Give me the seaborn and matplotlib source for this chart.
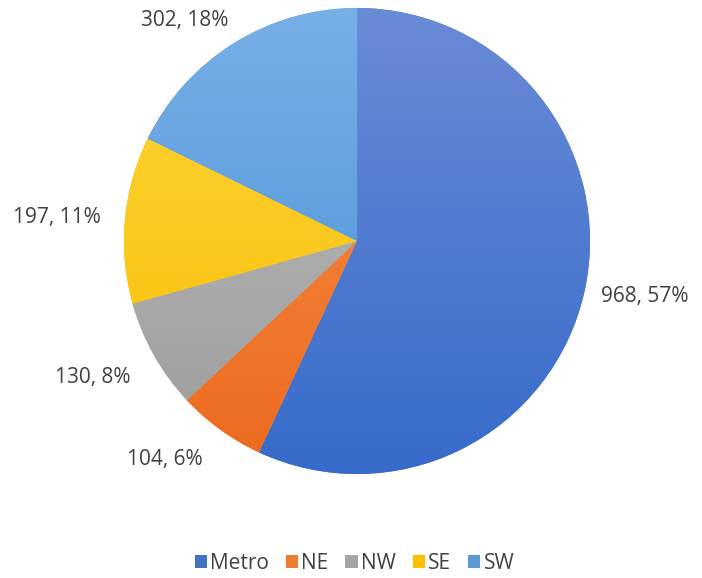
import matplotlib
matplotlib.use("Agg")
import matplotlib.pyplot as plt
import numpy as np
import seaborn as sns
from matplotlib.colors import LinearSegmentedColormap
from matplotlib.patches import Patch

# 数据
regions = ["Metro", "NE", "NW", "SE", "SW"]
counts = [968, 104, 130, 197, 302]
pcts = ["57%", "6%", "8%", "11%", "18%"]

# 渐变色 (顶部, 底部)
top_colors = ["#6A8BD6", "#F7914C", "#BDBDBD", "#FFD53D", "#78B0E8"]
bottom_colors = ["#376BCB", "#EC6A1E", "#9C9C9C", "#F8BE00", "#468CD4"]
legend_colors = ["#4472C4", "#ED7D31", "#A5A5A5", "#FFC000", "#5B9BD5"]

sns.set_theme(style="white")
plt.rcParams['font.family'] = ['Open Sans', 'DejaVu Sans']

fig = plt.figure(figsize=(7.02, 5.78), dpi=100)
ax = fig.add_axes([124 / 702, 104 / 578, 466 / 702, 466 / 578])

wedges, _ = ax.pie(counts, colors=legend_colors, startangle=90, counterclock=False,
                   radius=1, wedgeprops=dict(linewidth=0))

# 用图像做纵向渐变, 裁剪到每个扇形
grad = np.linspace(0, 1, 256).reshape(-1, 1)
for w, c0, c1 in zip(wedges, top_colors, bottom_colors):
    cmap = LinearSegmentedColormap.from_list("g", [c0, c1])
    im = ax.imshow(grad, cmap=cmap, extent=(-1, 1, -1, 1), origin="upper",
                   aspect="auto", zorder=w.get_zorder() + 0.1)
    im.set_clip_path(w)

# 数据标签 (距离, 角度偏移)
dist = [1.257, 1.25, 1.277, 1.29, 1.2]
shift = [1.6, -5.5, -2.0, 0.8, 6.0]
for w, n, p, d, s in zip(wedges, counts, pcts, dist, shift):
    ang = np.deg2rad((w.theta1 + w.theta2) / 2 + s)
    ax.text(d * np.cos(ang), d * np.sin(ang), "%d, %s" % (n, p),
            ha="center", va="center", fontsize=15, color="#404040")

ax.set_xlim(-1, 1)
ax.set_ylim(-1, 1)
ax.set_aspect("equal")
ax.axis("off")

handles = [Patch(facecolor=c, edgecolor="none") for c in legend_colors]
fig.legend(handles, regions, loc="lower center", bbox_to_anchor=(0.505, -0.025), ncol=5,
           frameon=False, fontsize=15, handlelength=0.6, handleheight=0.6,
           handletextpad=0.15, columnspacing=0.8, labelcolor="#404040")

fig.savefig("out.png", dpi=100)
